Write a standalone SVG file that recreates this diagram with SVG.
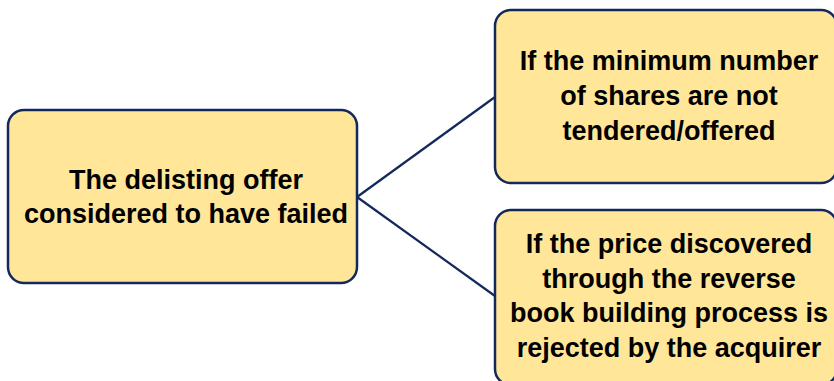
<svg xmlns="http://www.w3.org/2000/svg" width="834" height="381" viewBox="0 0 834 381">
  <style>
    .box { fill: #FFE699; stroke: #13295C; stroke-width: 2.5; }
    .label { font-family: "Liberation Sans", Arial, sans-serif; font-weight: bold; font-size: 27px; fill: #000000; text-anchor: middle; }
    .link { stroke: #13295C; stroke-width: 2.2; fill: none; }
  </style>
  <rect width="834" height="381" fill="#FFFFFF"/>

  <g id="connectors">
    <line class="link" x1="357" y1="197" x2="495" y2="97"/>
    <line class="link" x1="357" y1="197" x2="495" y2="296"/>
  </g>

  <g id="offer-failed">
    <rect class="box" x="8" y="110" width="349" height="173" rx="16"/>
    <text class="label" x="186" y="189">The delisting offer</text>
    <text class="label" x="186" y="223">considered to have failed</text>
  </g>

  <g id="min-shares">
    <rect class="box" x="495" y="10" width="342" height="173" rx="16"/>
    <text class="label" x="669" y="70">If the minimum number</text>
    <text class="label" x="669" y="105">of shares are not</text>
    <text class="label" x="669" y="140">tendered/offered</text>
  </g>

  <g id="price-rejected">
    <rect class="box" x="495" y="210" width="342" height="175" rx="16"/>
    <text class="label" x="669" y="253">If the price discovered</text>
    <text class="label" x="669" y="288">through the reverse</text>
    <text class="label" x="669" y="322">book building process is</text>
    <text class="label" x="669" y="357">rejected by the acquirer</text>
  </g>
</svg>
